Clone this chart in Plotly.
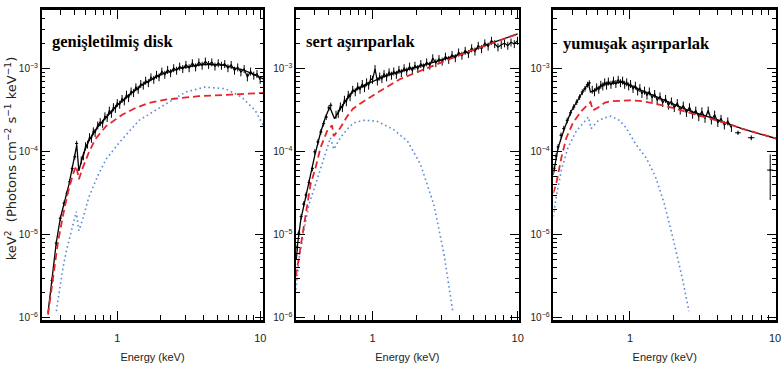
import numpy as np
import plotly.graph_objects as go

# ---------------- Panel 1: genişletilmiş disk ----------------
P1_TOT_E = [0.328, 0.35, 0.375, 0.40, 0.435, 0.46, 0.49, 0.521, 0.539, 0.574, 0.622, 0.70, 0.80, 0.90, 1.0, 1.2, 1.5, 2.0, 2.8, 4.0, 5.5, 7.8, 10.5]
P1_TOT_LOG = [-5.94, -5.55, -5.09, -4.80, -4.54, -4.39, -4.15, -3.92, -4.23, -4.05, -3.89, -3.74, -3.62, -3.52, -3.44, -3.32, -3.19, -3.07, -2.99, -2.945, -2.955, -3.02, -3.12]
P1_PL_E = [0.328, 0.355, 0.385, 0.417, 0.452, 0.49, 0.517, 0.539, 0.574, 0.632, 0.70, 0.835, 1.09, 1.35, 1.67, 2.18, 3.7, 6.3, 10.5]
P1_PL_LOG = [-5.96, -5.55, -5.09, -4.77, -4.49, -4.27, -4.17, -4.33, -4.19, -4.01, -3.85, -3.69, -3.55, -3.47, -3.41, -3.37, -3.33, -3.31, -3.29]
P1_DISK_E = [0.375, 0.396, 0.417, 0.44, 0.477, 0.517, 0.539, 0.574, 0.632, 0.73, 0.835, 1.03, 1.42, 2.18, 3.0, 4.1, 5.7, 7.4, 9.2, 10.5]
P1_DISK_LOG = [-5.92, -5.64, -5.40, -5.20, -4.97, -4.72, -4.95, -4.81, -4.55, -4.29, -4.09, -3.89, -3.62, -3.42, -3.28, -3.22, -3.24, -3.34, -3.50, -3.68]
P1_LOWE_E = [0.35, 0.375, 0.40, 0.425, 0.445, 0.465, 0.485, 0.505, 0.52]
P1_LOWE_LOG = [-5.55, -5.10, -4.80, -4.62, -4.50, -4.36, -4.20, -4.06, -3.90]
P1_DATA_E = [0.56, 0.58, 0.60, 0.62, 0.64, 0.66, 0.68, 0.70, 0.73, 0.76, 0.79, 0.82, 0.85, 0.88, 0.91, 0.94, 0.97, 1.00, 1.04, 1.08,
             1.12, 1.16, 1.20, 1.25, 1.30, 1.35, 1.40, 1.46, 1.52, 1.58, 1.65, 1.72, 1.80, 1.88, 1.96, 2.05, 2.15, 2.25, 2.36, 2.48,
             2.60, 2.73, 2.87, 3.02, 3.18, 3.35, 3.53, 3.72, 3.92, 4.13, 4.35, 4.58, 4.82, 5.08, 5.35, 5.64, 5.94, 6.26, 6.60, 6.95,
             7.32, 7.71, 8.12, 8.55, 9.00, 9.48, 9.98]
P1_DATA_LOG = [-4.10, -4.05, -3.93, -3.91, -3.82, -3.84, -3.75, -3.77, -3.68, -3.64, -3.66, -3.57, -3.59, -3.50, -3.54, -3.46, -3.48, -3.41, -3.43, -3.36,
               -3.39, -3.31, -3.35, -3.27, -3.29, -3.22, -3.25, -3.18, -3.20, -3.14, -3.17, -3.10, -3.13, -3.07, -3.10, -3.03, -3.07, -3.01, -3.05, -2.99,
               -3.02, -2.97, -3.00, -2.95, -2.99, -2.93, -2.98, -2.92, -2.96, -2.91, -2.95, -2.92, -2.97, -2.93, -2.96, -2.94, -2.99, -2.95, -3.02, -2.98,
               -3.04, -3.00, -3.10, -3.03, -3.08, -3.06, -3.13]

# ---------------- Panel 2: sert aşırıparlak ----------------
P2_TOT_E = [0.298, 0.305, 0.32, 0.346, 0.37, 0.40, 0.438, 0.474, 0.507, 0.547, 0.60, 0.667, 0.72, 0.85, 1.0, 1.2, 1.5, 2.0, 2.9, 4.5, 6.8, 10.0]
P2_TOT_LOG = [-5.30, -5.10, -4.82, -4.54, -4.30, -4.04, -3.77, -3.58, -3.46, -3.60, -3.48, -3.36, -3.28, -3.21, -3.15, -3.09, -3.04, -2.98, -2.90, -2.80, -2.68, -2.58]
P2_PL_E = [0.296, 0.311, 0.328, 0.346, 0.374, 0.405, 0.438, 0.486, 0.526, 0.54, 0.60, 0.667, 0.733, 0.82, 1.05, 1.56, 2.64, 4.47, 10.0]
P2_PL_LOG = [-5.50, -5.26, -5.02, -4.71, -4.39, -4.19, -3.95, -3.75, -3.68, -3.81, -3.71, -3.575, -3.48, -3.42, -3.30, -3.12, -2.96, -2.80, -2.58]
P2_DISK_E = [0.296, 0.311, 0.337, 0.365, 0.405, 0.45, 0.513, 0.54, 0.60, 0.667, 0.741, 0.87, 1.07, 1.39, 1.74, 2.14, 2.64, 3.1, 3.57]
P2_DISK_LOG = [-5.66, -5.30, -4.94, -4.63, -4.39, -4.15, -3.83, -3.97, -3.83, -3.73, -3.65, -3.62, -3.63, -3.73, -3.87, -4.15, -4.63, -5.22, -5.92]
P2_LOWE_E = [0.302, 0.31, 0.322, 0.335, 0.348, 0.365, 0.385, 0.40, 0.42, 0.44, 0.46, 0.48, 0.50, 0.515]
P2_LOWE_LOG = [-5.15, -4.98, -4.78, -4.63, -4.52, -4.37, -4.20, -4.00, -3.88, -3.76, -3.66, -3.58, -3.47, -3.44]
P2_DATA_E = [0.56, 0.58, 0.60, 0.62, 0.64, 0.66, 0.68, 0.70, 0.73, 0.76, 0.79, 0.82, 0.85, 0.88, 0.91, 0.94, 0.97, 1.00, 1.04, 1.08,
             1.12, 1.16, 1.20, 1.25, 1.30, 1.35, 1.40, 1.46, 1.52, 1.58, 1.65, 1.72, 1.80, 1.88, 1.96, 2.05, 2.15, 2.25, 2.36, 2.48,
             2.60, 2.73, 2.87, 3.02, 3.18, 3.35, 3.53, 3.72, 3.92, 4.13, 4.35, 4.58, 4.82, 5.08, 5.35, 5.64, 5.94, 6.26, 6.60, 6.95,
             7.32, 7.71, 8.12, 8.55, 9.00, 9.48, 9.98]
P2_DATA_LOG = [-3.55, -3.54, -3.45, -3.47, -3.37, -3.40, -3.31, -3.34, -3.25, -3.28, -3.21, -3.25, -3.18, -3.23, -3.16, -3.20, -3.12, -3.13, -3.00, -3.15,
               -3.09, -3.12, -3.06, -3.10, -3.04, -3.08, -3.03, -3.07, -3.01, -3.05, -2.99, -3.03, -2.97, -3.02, -2.96, -3.00, -2.94, -2.98, -2.92, -2.96,
               -2.87, -2.93, -2.88, -2.91, -2.85, -2.89, -2.83, -2.87, -2.80, -2.84, -2.78, -2.82, -2.75, -2.79, -2.72, -2.76, -2.69, -2.73, -2.66, -2.70,
               -2.74, -2.71, -2.69, -2.72, -2.68, -2.70, -2.66]

# ---------------- Panel 3: yumuşak aşırıparlak ----------------
P3_TOT_E = [0.296, 0.303, 0.32, 0.355, 0.394, 0.438, 0.486, 0.518, 0.535, 0.60, 0.667, 0.741, 0.867, 0.94, 1.0, 1.3, 1.6, 2.07, 2.69, 3.49, 4.55, 5.9, 7.7, 10.2]
P3_TOT_LOG = [-4.28, -4.18, -3.95, -3.71, -3.51, -3.375, -3.24, -3.18, -3.28, -3.24, -3.18, -3.18, -3.16, -3.18, -3.20, -3.29, -3.36, -3.44, -3.52, -3.58, -3.65, -3.72, -3.78, -3.84]
P3_PL_E = [0.296, 0.311, 0.337, 0.365, 0.405, 0.462, 0.513, 0.535, 0.555, 0.60, 0.667, 0.741, 0.99, 1.22, 1.59, 2.07, 2.69, 3.49, 4.55, 5.9, 7.7, 10.2]
P3_PL_LOG = [-4.50, -4.38, -4.07, -3.83, -3.65, -3.51, -3.43, -3.40, -3.50, -3.47, -3.41, -3.39, -3.38, -3.39, -3.43, -3.48, -3.54, -3.59, -3.65, -3.72, -3.78, -3.84]
P3_DISK_E = [0.296, 0.311, 0.337, 0.374, 0.427, 0.486, 0.518, 0.54, 0.60, 0.667, 0.741, 0.845, 0.94, 1.1, 1.29, 1.5, 1.72, 1.96, 2.30, 2.55]
P3_DISK_LOG = [-4.78, -4.54, -4.22, -3.95, -3.75, -3.63, -3.58, -3.72, -3.63, -3.59, -3.57, -3.62, -3.71, -3.91, -4.07, -4.30, -4.62, -5.01, -5.53, -5.92]
P3_LOWE_E = [0.30, 0.31, 0.32, 0.335, 0.35, 0.37, 0.39, 0.41, 0.43, 0.45, 0.47, 0.49, 0.51, 0.525]
P3_LOWE_LOG = [-4.20, -4.05, -3.94, -3.80, -3.72, -3.62, -3.53, -3.46, -3.40, -3.34, -3.28, -3.24, -3.19, -3.17]
P3_DATA_E = [0.55, 0.57, 0.59, 0.61, 0.63, 0.65, 0.67, 0.69, 0.71, 0.74, 0.77, 0.80, 0.83, 0.86, 0.89, 0.92, 0.95, 0.98, 1.01, 1.05,
             1.09, 1.13, 1.17, 1.21, 1.26, 1.31, 1.36, 1.42, 1.48, 1.54, 1.61, 1.68, 1.76, 1.84, 1.93, 2.02, 2.12, 2.22, 2.33, 2.45,
             2.57, 2.70, 2.84, 2.98, 3.13, 3.29, 3.46, 3.64, 3.83, 4.03, 4.24, 4.47, 4.72, 5.00]
P3_DATA_LOG = [-3.25, -3.28, -3.22, -3.25, -3.19, -3.21, -3.16, -3.20, -3.15, -3.19, -3.14, -3.18, -3.13, -3.17, -3.14, -3.19, -3.16, -3.21, -3.18, -3.24,
               -3.20, -3.27, -3.23, -3.30, -3.26, -3.32, -3.27, -3.35, -3.30, -3.38, -3.33, -3.41, -3.36, -3.44, -3.39, -3.47, -3.41, -3.50, -3.44, -3.53,
               -3.46, -3.55, -3.50, -3.58, -3.51, -3.60, -3.50, -3.62, -3.55, -3.65, -3.60, -3.68, -3.63, -3.71]
P3_SPARSE_E = [5.55, 6.85, 9.25]
P3_SPARSE_LOG = [-3.77, -3.83, -4.22]
P3_SPARSE_ERR_UP = [0.10e-4, 0.10e-4, 0.33e-4]
P3_SPARSE_ERR_DN = [0.10e-4, 0.10e-4, 0.34e-4]
P3_SPARSE_EX = [0.25, 0.35, 0.45]

TITLES = ["genişletilmiş disk", "sert aşırıparlak", "yumuşak aşırıparlak"]
Y_TICKS = [1e-6, 1e-5, 1e-4, 1e-3]
Y_TICKTEXT = ["10<sup>−6</sup>", "10<sup>−5</sup>", "10<sup>−4</sup>", "10<sup>−3</sup>"]
X_TICKS = [1, 10]
X_TICKTEXT = ["1", "10"]
X_MINOR = [0.3, 0.4, 0.5, 0.6, 0.7, 0.8, 0.9, 2, 3, 4, 5, 6, 7, 8, 9]
Y_MINOR = [m * d for d in (1e-7, 1e-6, 1e-5, 1e-4, 1e-3) for m in range(2, 10)]

W, H = 781, 372
RED = "#e4262c"
BLUE = "#5a8ad8"
AXFONT = "Liberation Sans Narrow, Liberation Sans, Arial, sans-serif"

panels = [
    (P1_TOT_E, P1_TOT_LOG, P1_PL_E, P1_PL_LOG, P1_DISK_E, P1_DISK_LOG, P1_LOWE_E, P1_LOWE_LOG, P1_DATA_E, P1_DATA_LOG),
    (P2_TOT_E, P2_TOT_LOG, P2_PL_E, P2_PL_LOG, P2_DISK_E, P2_DISK_LOG, P2_LOWE_E, P2_LOWE_LOG, P2_DATA_E, P2_DATA_LOG),
    (P3_TOT_E, P3_TOT_LOG, P3_PL_E, P3_PL_LOG, P3_DISK_E, P3_DISK_LOG, P3_LOWE_E, P3_LOWE_LOG, P3_DATA_E, P3_DATA_LOG),
]

# pixel layout of each panel (left, right)
X_DOMAINS_PX = [(42, 265), (298, 522), (557, 781)]
X_RANGES = [[-0.528, 1.021], [-0.527, 1.007], [-0.527, 1.006]]
Y_DOMAIN_PX = (10, 323)
Y_RANGE = [-6.02, -2.29]

def lg(v):
    return 10.0 ** np.array(v)

fig = go.Figure()
for i, p in enumerate(panels):
    tE, tL, pE, pL, dE, dL, lE, lL, aE, aL = p
    xa = "x" if i == 0 else f"x{i+1}"
    ya = "y" if i == 0 else f"y{i+1}"
    # data band
    fig.add_trace(go.Scatter(x=aE, y=lg(aL), xaxis=xa, yaxis=ya, mode="lines",
                             line=dict(color="black", width=1.2),
                             error_y=dict(type="percent", value=11, thickness=1, width=0, color="black"),
                             showlegend=False, hoverinfo="skip"))
    # low energy data crosses
    fig.add_trace(go.Scatter(x=lE, y=lg(lL), xaxis=xa, yaxis=ya, mode="markers",
                             marker=dict(color="black", size=2),
                             error_y=dict(type="percent", value=8, thickness=0.9, width=0, color="black"),
                             error_x=dict(type="percent", value=2.5, thickness=0.9, width=0, color="black"),
                             showlegend=False, hoverinfo="skip"))
    # total model
    fig.add_trace(go.Scatter(x=tE, y=lg(tL), xaxis=xa, yaxis=ya, mode="lines",
                             line=dict(color="black", width=1.3), showlegend=False, hoverinfo="skip"))
    # disk component
    fig.add_trace(go.Scatter(x=dE, y=lg(dL), xaxis=xa, yaxis=ya, mode="lines",
                             line=dict(color=BLUE, width=1.6, dash="1.6px,3px"), showlegend=False, hoverinfo="skip"))
    # power-law / comptonised component
    fig.add_trace(go.Scatter(x=pE, y=lg(pL), xaxis=xa, yaxis=ya, mode="lines",
                             line=dict(color=RED, width=1.8, dash="7px,4px"), showlegend=False, hoverinfo="skip"))

fig.add_trace(go.Scatter(x=P3_SPARSE_E, y=lg(P3_SPARSE_LOG), xaxis="x3", yaxis="y3", mode="markers",
                         marker=dict(color="black", size=2),
                         error_y=dict(type="data", symmetric=False, array=P3_SPARSE_ERR_UP, arrayminus=P3_SPARSE_ERR_DN,
                                      thickness=1, width=0, color="black"),
                         error_x=dict(type="data", array=P3_SPARSE_EX, thickness=1, width=0, color="black"),
                         showlegend=False, hoverinfo="skip"))

layout = dict(width=W, height=H, margin=dict(l=0, r=0, t=0, b=0),
              paper_bgcolor="white", plot_bgcolor="white", showlegend=False)
annotations = []
for i in range(3):
    xk = "xaxis" if i == 0 else f"xaxis{i+1}"
    yk = "yaxis" if i == 0 else f"yaxis{i+1}"
    l, r = X_DOMAINS_PX[i]
    layout[xk] = dict(type="log", domain=[l / W, r / W], range=X_RANGES[i],
                      anchor="y" if i == 0 else f"y{i+1}",
                      tickvals=X_TICKS, ticktext=X_TICKTEXT, ticks="inside", ticklen=9, tickwidth=1,
                      tickcolor="black", ticklabelstandoff=7, ticklabeloverflow="allow",
                      minor=dict(tickvals=X_MINOR, ticks="inside", ticklen=5, tickwidth=1, tickcolor="black", showgrid=False),
                      showline=True, linecolor="black", linewidth=2.5, mirror="allticks",
                      showgrid=False, zeroline=False,
                      tickfont=dict(family=AXFONT, size=11, color="#222"),
                      title=dict(text="Energy (keV)", font=dict(family=AXFONT, size=11, color="#222"), standoff=10))
    layout[yk] = dict(type="log", domain=[1 - Y_DOMAIN_PX[1] / H, 1 - Y_DOMAIN_PX[0] / H], range=Y_RANGE,
                      anchor="x" if i == 0 else f"x{i+1}",
                      tickvals=Y_TICKS, ticktext=Y_TICKTEXT, ticks="inside", ticklen=9, tickwidth=1,
                      tickcolor="black",
                      minor=dict(tickvals=Y_MINOR, ticks="inside", ticklen=4, tickwidth=1, tickcolor="black", showgrid=False),
                      showline=True, linecolor="black", linewidth=1.5, mirror="allticks",
                      showgrid=False, zeroline=False,
                      tickfont=dict(family=AXFONT, size=10, color="#222"))
    annotations.append(dict(text=f"<b>{TITLES[i]}</b>", xref="paper", yref="paper",
                            x=(l + 8) / W, y=1 - (42 if i < 2 else 44) / H, xanchor="left", yanchor="middle", showarrow=False,
                            font=dict(family="Liberation Serif, Times New Roman, serif", size=16.5, color="black")))

annotations.append(dict(text="keV<sup>2</sup>  (Photons cm<sup>−2</sup> s<sup>−1</sup> keV<sup>−1</sup>)",
                        xref="paper", yref="paper", x=11 / W, y=1 - 160 / H, textangle=-90,
                        xanchor="center", yanchor="middle", showarrow=False,
                        font=dict(family="DejaVu Sans, sans-serif", size=13, color="#222")))
layout["annotations"] = annotations
fig.update_layout(**layout)
fig.write_html("out.html")
